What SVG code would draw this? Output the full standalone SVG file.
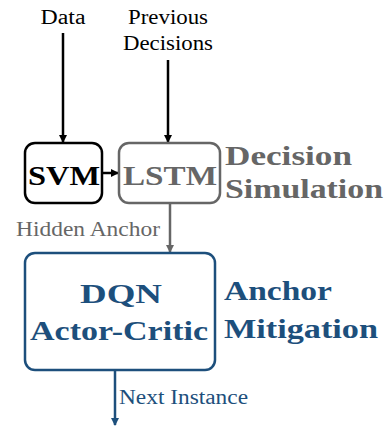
<svg xmlns="http://www.w3.org/2000/svg" width="388" height="427" viewBox="0 0 388 427">
<style>
text{font-family:'Liberation Serif','DejaVu Serif',serif}
.lbl{font-size:20px;fill:#000}
.big{font-size:28px;font-weight:bold}
.box{fill:#fff;stroke-width:2.5}
</style>
<defs>
<marker id="ab" markerWidth="8" markerHeight="8" refX="7" refY="4" orient="auto" markerUnits="userSpaceOnUse"><path d="M0,0 L8,4 L0,8 z" fill="#000"/></marker>
<marker id="ag" markerWidth="8" markerHeight="8" refX="7" refY="4" orient="auto" markerUnits="userSpaceOnUse"><path d="M0,0 L8,4 L0,8 z" fill="#666"/></marker>
<marker id="au" markerWidth="8" markerHeight="8" refX="7" refY="4" orient="auto" markerUnits="userSpaceOnUse"><path d="M0,0 L8,4 L0,8 z" fill="#1d4f7c"/></marker>
</defs>
<g id="connectors" fill="none" stroke-width="2.5">
<line x1="63" y1="33" x2="63" y2="142" stroke="#000" marker-end="url(#ab)"/>
<line x1="168" y1="60" x2="168" y2="142" stroke="#000" marker-end="url(#ab)"/>
<line x1="103" y1="173" x2="118" y2="173" stroke="#000" marker-end="url(#ab)"/>
<line x1="170" y1="204" x2="170" y2="252" stroke="#666" marker-end="url(#ag)"/>
<line x1="115" y1="371" x2="115" y2="425" stroke="#1d4f7c" marker-end="url(#au)"/>
</g>
<g id="inputs">
<text class="lbl" x="63" y="24" text-anchor="middle" textLength="45" lengthAdjust="spacingAndGlyphs">Data</text>
<text class="lbl" x="168" y="24" text-anchor="middle" textLength="80" lengthAdjust="spacingAndGlyphs">Previous</text>
<text class="lbl" x="168" y="50" text-anchor="middle" textLength="90" lengthAdjust="spacingAndGlyphs">Decisions</text>
</g>
<g id="svm">
<rect class="box" x="25" y="143" width="77" height="60" rx="10" stroke="#000"/>
<text class="big" x="64" y="185" text-anchor="middle" textLength="72" lengthAdjust="spacingAndGlyphs" fill="#000">SVM</text>
</g>
<g id="lstm">
<rect class="box" x="119" y="143" width="101" height="60" rx="10" stroke="#666"/>
<text class="big" x="170" y="185" text-anchor="middle" textLength="94" lengthAdjust="spacingAndGlyphs" fill="#666">LSTM</text>
</g>
<g id="decision-simulation" fill="#666">
<text class="big" x="225" y="165" textLength="127" lengthAdjust="spacingAndGlyphs">Decision</text>
<text class="big" x="225" y="198" textLength="158" lengthAdjust="spacingAndGlyphs">Simulation</text>
</g>
<g id="hidden-anchor">
<text x="16" y="236" font-size="20" fill="#666" textLength="144" lengthAdjust="spacingAndGlyphs">Hidden Anchor</text>
</g>
<g id="dqn">
<rect class="box" x="25" y="253" width="190" height="117" rx="10" stroke="#1d4f7c"/>
<text class="big" x="121" y="303" text-anchor="middle" textLength="82" lengthAdjust="spacingAndGlyphs" fill="#1d4f7c">DQN</text>
<text class="big" x="119" y="340" text-anchor="middle" textLength="178" lengthAdjust="spacingAndGlyphs" fill="#1d4f7c">Actor-Critic</text>
</g>
<g id="anchor-mitigation" fill="#1d4f7c">
<text class="big" x="224" y="300" textLength="108" lengthAdjust="spacingAndGlyphs">Anchor</text>
<text class="big" x="224" y="338" textLength="154" lengthAdjust="spacingAndGlyphs">Mitigation</text>
</g>
<g id="next-instance">
<text x="119" y="404" font-size="20" fill="#1d4f7c" textLength="129" lengthAdjust="spacingAndGlyphs">Next Instance</text>
</g>
</svg>
